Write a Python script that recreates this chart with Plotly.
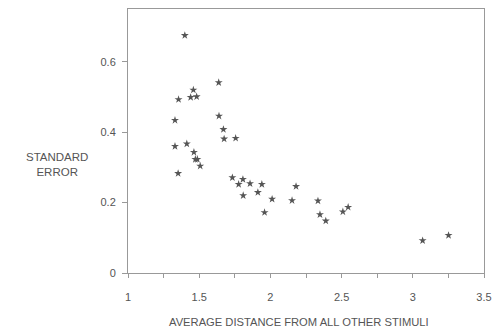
import plotly.graph_objects as go

avg_distance = [1.399, 1.637, 1.459, 1.440, 1.482, 1.355, 1.330, 1.639, 1.670, 1.675,
                1.756, 1.330, 1.413, 1.463, 1.473, 1.487, 1.507, 1.352, 1.733, 1.777,
                1.807, 1.809, 1.857, 1.912, 1.940, 1.959, 2.012, 2.152, 2.180, 2.334,
                2.348, 2.389, 2.509, 2.546, 3.069, 3.251]
std_error = [0.675, 0.541, 0.520, 0.499, 0.501, 0.493, 0.434, 0.446, 0.408, 0.381,
             0.383, 0.360, 0.367, 0.343, 0.323, 0.323, 0.304, 0.283, 0.271, 0.252,
             0.266, 0.220, 0.254, 0.229, 0.252, 0.172, 0.210, 0.206, 0.246, 0.205,
             0.166, 0.148, 0.174, 0.187, 0.092, 0.107]

x_ticks = [1, 1.25, 1.5, 1.75, 2, 2.25, 2.5, 2.75, 3, 3.25, 3.5]
x_labels = ["1", "", "1.5", "", "2", "", "2.5", "", "3", "", "3.5"]
y_ticks = [0, 0.2, 0.4, 0.6]
y_labels = ["0", "0.2", "0.4", "0.6"]

font = "Liberation Sans, Arial, sans-serif"
txt = "#555555"
line = "#999999"

fig = go.Figure(go.Scatter(
    x=avg_distance, y=std_error, mode="markers",
    marker=dict(symbol="star", size=6, color="#555555"),
    hoverinfo="x+y",
))

fig.update_layout(
    width=500, height=333,
    margin=dict(l=128, r=10, t=8, b=60),
    paper_bgcolor="white", plot_bgcolor="white",
    showlegend=False,
    font=dict(family=font, size=11, color=txt),
    xaxis=dict(range=[1, 3.5], tickvals=x_ticks, ticktext=x_labels,
               showgrid=False, zeroline=False, showline=True, linecolor=line,
               linewidth=1, mirror=True, ticks="outside", ticklen=4,
               tickcolor=line, ticklabelstandoff=10,
               tickfont=dict(size=11, color=txt)),
    yaxis=dict(range=[0, 0.75], tickvals=y_ticks, ticktext=y_labels,
               showgrid=False, zeroline=False, showline=True, linecolor=line,
               linewidth=1, mirror=True, ticks="outside", ticklen=5,
               tickcolor=line, ticklabelstandoff=4,
               tickfont=dict(size=11, color=txt)),
    annotations=[
        dict(text="STANDARD<br>ERROR", xref="paper", yref="paper",
             x=-0.2, y=0.41, xanchor="center", yanchor="middle",
             showarrow=False, font=dict(size=11.5, color=txt, family=font)),
        dict(text="AVERAGE DISTANCE FROM ALL OTHER STIMULI", xref="paper", yref="paper",
             x=0.48, y=-0.185, xanchor="center", yanchor="middle",
             showarrow=False, font=dict(size=11.2, color=txt, family=font)),
    ],
)

fig.write_html("out.html")
